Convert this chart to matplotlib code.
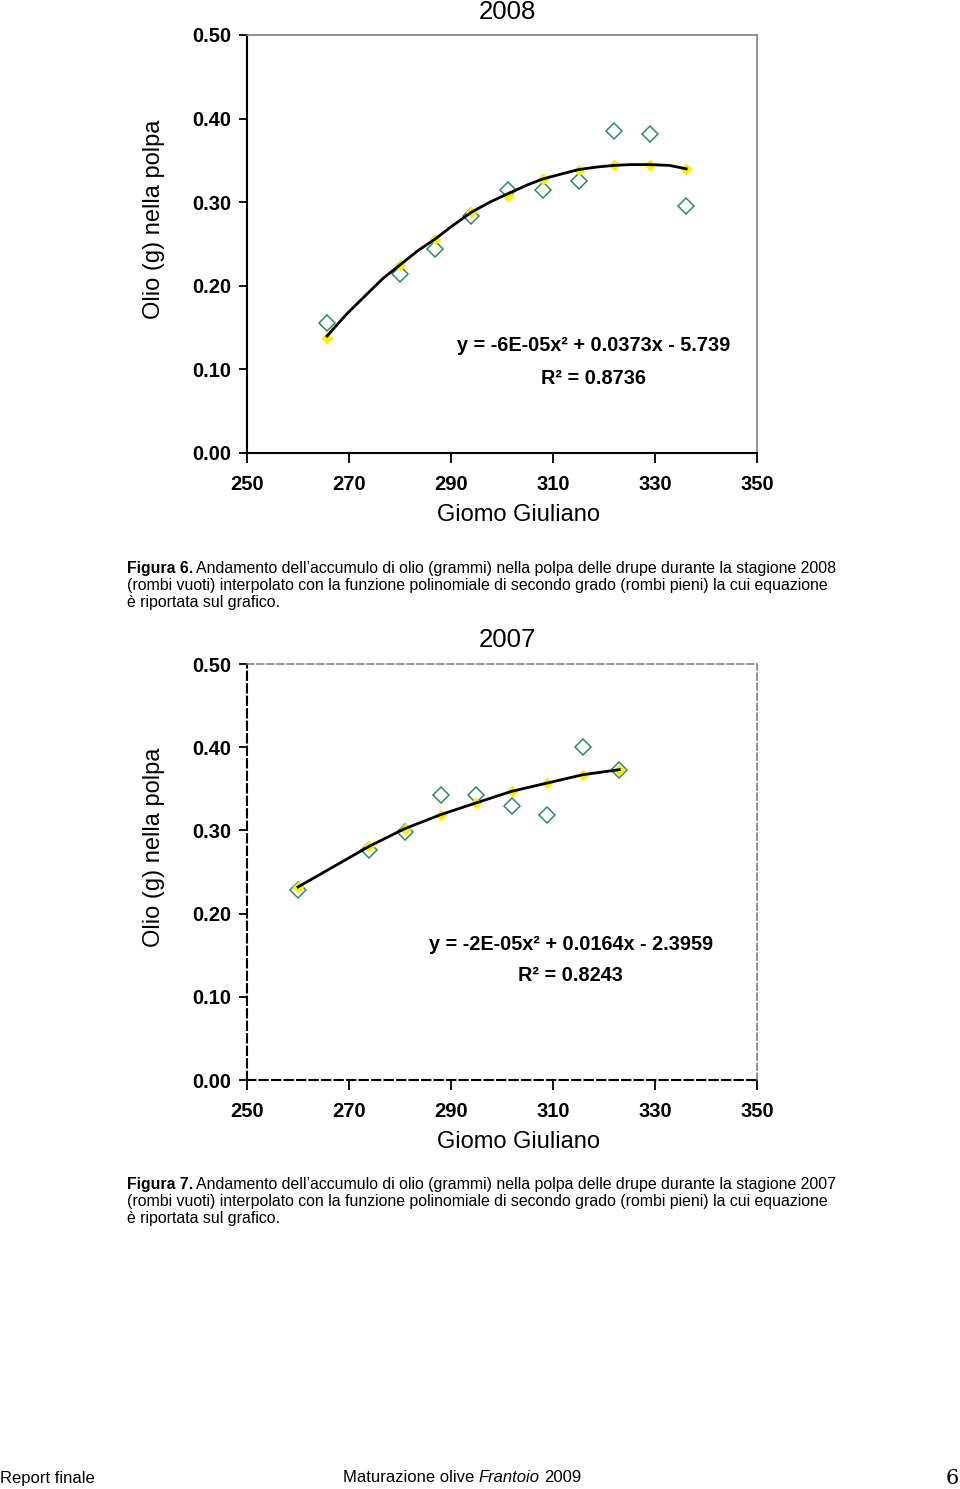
import matplotlib
matplotlib.use("Agg")
import matplotlib.pyplot as plt

# ---- data ----
giorni_2008 = [265.7, 280.0, 286.9, 294.0, 301.1, 308.1, 315.0, 321.9, 329.0, 336.1]
olio_2008 = [0.155, 0.214, 0.244, 0.284, 0.315, 0.314, 0.325, 0.385, 0.382, 0.296]
fit_2008 = [0.138, 0.225, 0.256, 0.288, 0.308, 0.328, 0.339, 0.344, 0.345, 0.340]
# trend line
trend_x_2008 = [265.7, 269.5, 273.5, 276.7, 280.0, 283.5, 286.9, 290.1, 294.0, 297.6,
                301.1, 305.1, 308.1, 311.8, 315.0, 318.5, 321.9, 325.3, 329.0, 332.8, 336.1]
trend_y_2008 = [0.140, 0.166, 0.190, 0.209, 0.225, 0.242, 0.256, 0.271, 0.288, 0.300,
                0.310, 0.321, 0.328, 0.334, 0.339, 0.342, 0.344, 0.345, 0.345, 0.344, 0.340]

giorni_2007 = [260.0, 274.0, 280.9, 288.0, 294.9, 301.9, 308.9, 315.9, 323.0]
olio_2007 = [0.228, 0.276, 0.298, 0.342, 0.343, 0.329, 0.319, 0.400, 0.372]
fit_2007 = [0.232, 0.281, 0.302, 0.319, 0.333, 0.347, 0.357, 0.367, 0.373]

x_ticks = [250, 270, 290, 310, 330, 350]
y_ticks = [0.00, 0.10, 0.20, 0.30, 0.40, 0.50]

eq_2008 = ["y = -6E-05x² + 0.0373x - 5.739", "R² = 0.8736"]
eq_2007 = ["y = -2E-05x² + 0.0164x - 2.3959", "R² = 0.8243"]

cap_2008 = ["Andamento dell\u2019accumulo di olio (grammi) nella polpa delle drupe durante la stagione 2008",
            "(rombi vuoti) interpolato con la funzione polinomiale di secondo grado (rombi pieni) la cui equazione",
            "è riportata sul grafico."]
cap_2007 = ["Andamento dell\u2019accumulo di olio (grammi) nella polpa delle drupe durante la stagione 2007",
            "(rombi vuoti) interpolato con la funzione polinomiale di secondo grado (rombi pieni) la cui equazione",
            "è riportata sul grafico."]

W, H = 960, 1489
plt.rcParams['font.family'] = ['Liberation Sans', 'DejaVu Sans']

fig = plt.figure(figsize=(W / 100, H / 100), dpi=100)


def px_axes(left, top, right, bottom):
    return fig.add_axes([left / W, 1 - bottom / H, (right - left) / W, (bottom - top) / H])


def draw_chart(ax, x, y, fit, line_x, line_y, eq, title, title_y, eq_pos, dashed):
    ax.plot(x, y, linestyle='none', marker='D', markersize=8, markerfacecolor='none',
            markeredgecolor='#2f8a62', markeredgewidth=1.1, zorder=3)
    ax.plot(x, fit, linestyle='none', marker='D', markersize=5.5, color='#f5f000', zorder=4)
    ax.plot(line_x, line_y, color='black', linewidth=2.0, zorder=5)
    ax.set_xlim(250, 350)
    ax.set_ylim(0, 0.5)
    ax.set_xticks(x_ticks)
    ax.set_yticks(y_ticks)
    ax.set_xticklabels([str(t) for t in x_ticks], fontsize=14.5, fontweight='bold')
    ax.set_yticklabels(["%.2f" % t for t in y_ticks], fontsize=14.5, fontweight='bold')
    ax.tick_params(axis='x', direction='out', length=7, width=1.3, pad=9)
    ax.tick_params(axis='y', direction='out', length=6, width=1.3, pad=5)
    ls = (0, (4, 2)) if dashed else '-'
    for s in ['left', 'bottom']:
        ax.spines[s].set_color('black')
        ax.spines[s].set_linewidth(1.5)
        ax.spines[s].set_linestyle(ls)
    for s in ['top', 'right']:
        ax.spines[s].set_color('#808080')
        ax.spines[s].set_linewidth(1.2)
        ax.spines[s].set_linestyle(ls)
    ax.set_xlabel("Giomo Giuliano", fontsize=17, labelpad=7, x=0.533)
    ax.set_ylabel("Olio (g) nella polpa", fontsize=17, labelpad=20, y=0.56)
    fig.text(507 / W, 1 - title_y / H, title, fontsize=18.5, ha='center', va='center')
    ax.text(eq_pos[0], eq_pos[1], eq[0], transform=ax.transAxes, ha='center', va='center',
            fontsize=14.3, fontweight='bold')
    ax.text(eq_pos[0], eq_pos[2], eq[1], transform=ax.transAxes, ha='center', va='center',
            fontsize=14.3, fontweight='bold')


ax1 = px_axes(247, 35, 757, 453)
draw_chart(ax1, giorni_2008, olio_2008, fit_2008, trend_x_2008, trend_y_2008, eq_2008,
           "2008", 12, (0.68, 0.258, 0.179), False)

ax2 = px_axes(247, 664, 757, 1080)
draw_chart(ax2, giorni_2007, olio_2007, fit_2007, giorni_2007, fit_2007, eq_2007,
           "2007", 640, (0.635, 0.325, 0.252), True)

renderer = fig.canvas.get_renderer()


def caption(label, lines, y0):
    fs = 11.4
    b = fig.text(127 / W, 1 - y0 / H, label, fontsize=fs, fontweight='bold', va='center', ha='left')
    bw = b.get_window_extent(renderer).width
    fig.text((127 + bw + 3) / W, 1 - y0 / H, lines[0], fontsize=fs, va='center', ha='left')
    for i, line in enumerate(lines[1:]):
        fig.text(127 / W, 1 - (y0 + 17.5 * (i + 1)) / H, line, fontsize=fs, va='center', ha='left')


caption("Figura 6.", cap_2008, 568)
caption("Figura 7.", cap_2007, 1184)

# footer
fy = 1 - 1478 / H
fig.text(0, fy, "Report finale", fontsize=12, va='center', ha='left')
t1 = fig.text(343 / W, fy, "Maturazione olive ", fontsize=12, va='center', ha='left')
w1 = t1.get_window_extent(renderer).width
t2 = fig.text((343 + w1) / W, fy, "Frantoio", fontsize=12, style='italic', va='center', ha='left')
w2 = t2.get_window_extent(renderer).width
fig.text((343 + w1 + w2 + 4) / W, fy, "2009", fontsize=12, va='center', ha='left')
fig.text(959 / W, fy, "6", fontsize=15, family='DejaVu Serif', va='center', ha='right')

fig.savefig("out.png", dpi=100)
